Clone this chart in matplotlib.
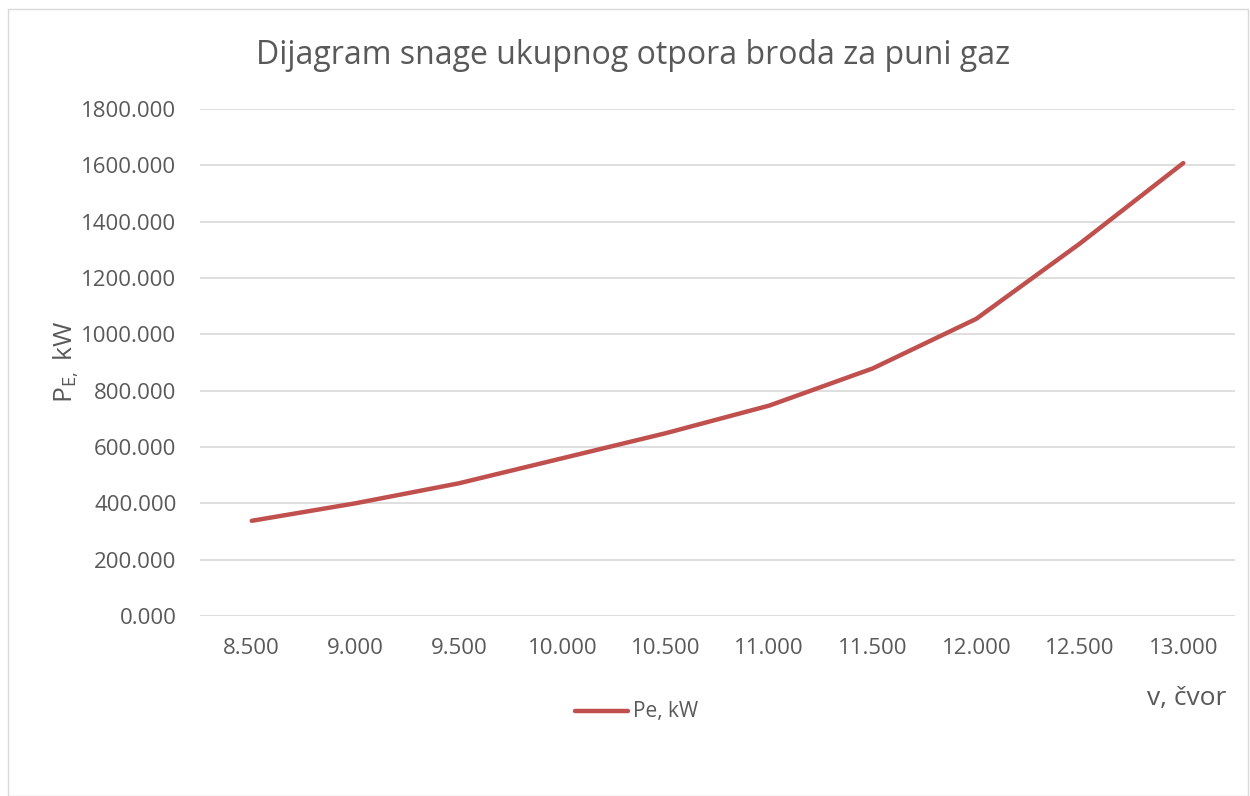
import matplotlib
matplotlib.use("Agg")
import matplotlib.pyplot as plt
from matplotlib.patches import Rectangle
from matplotlib.lines import Line2D

categories = ["8.500", "9.000", "9.500", "10.000", "10.500", "11.000",
              "11.500", "12.000", "12.500", "13.000"]
pe_kw = [338, 400, 471, 560, 649, 747, 879, 1055, 1322, 1608]
yticks = [0, 200, 400, 600, 800, 1000, 1200, 1400, 1600, 1800]
ytick_labels = [f"{v:.3f}" for v in yticks]

plt.rcParams['font.family'] = ['Open Sans', 'DejaVu Sans']
TXT = '#595959'

fig = plt.figure(figsize=(12.5, 7.96), dpi=100)
W, H = 1250, 796
# outer chart border
fig.patches.append(Rectangle((8 / W, 0), (1248 - 8) / W, (796 - 9) / H,
                             transform=fig.transFigure, fill=False,
                             edgecolor='#D9D9D9', linewidth=1.0))

ax = fig.add_axes([200 / W, 1 - 616 / H, (1235 - 200) / W, (616 - 109) / H])
x = list(range(len(categories)))
ax.plot(x, pe_kw, color='#C0504D', linewidth=3.2, solid_capstyle='round',
        solid_joinstyle='round', zorder=3)
ax.set_xlim(-0.5, len(categories) - 0.5)
ax.set_ylim(0, 1800)
ax.set_yticks(yticks)
ax.set_yticklabels(ytick_labels)
ax.set_xticks(x)
ax.set_xticklabels(categories)
ax.grid(axis='y', color='#D9D9D9', linewidth=1.2)
ax.set_axisbelow(True)
for s in ax.spines.values():
    s.set_visible(False)
ax.tick_params(axis='both', length=0, labelsize=16, colors=TXT)
ax.tick_params(axis='y', pad=17)
ax.tick_params(axis='x', pad=16)

fig.text(633 / W, 1 - 56 / H, "Dijagram snage ukupnog otpora broda za puni gaz",
         ha='center', va='center', fontsize=23, color=TXT)
fig.text(66 / W, 1 - 362 / H, r"P$_{\mathregular{E,}}$ kW", rotation=90,
         ha='center', va='center', fontsize=19, color=TXT)
fig.text(1187 / W, 1 - 699 / H, "v, čvor", ha='center', va='center',
         fontsize=19, color=TXT)

# legend
fig.lines.append(Line2D([575 / W, 628 / W], [1 - 711 / H, 1 - 711 / H],
                        transform=fig.transFigure, color='#C0504D',
                        linewidth=3.2, solid_capstyle='round'))
fig.text(633 / W, 1 - 712 / H, "Pe, kW", ha='left', va='center',
         fontsize=15, color=TXT)

fig.savefig("out.png", dpi=100)
